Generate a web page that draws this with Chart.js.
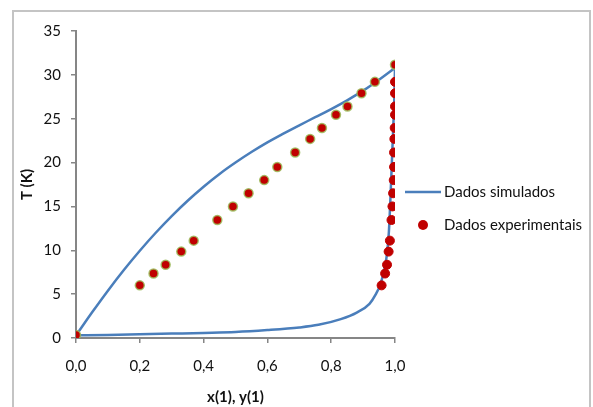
<!DOCTYPE html>
<html>
<head>
<meta charset="utf-8">
<script src="https://cdn.jsdelivr.net/npm/chart.js@4.4.1/dist/chart.umd.min.js"></script>
<style>
  html, body { margin: 0; padding: 0; background: #fff; }
  #wrap { width: 593px; height: 407px; }
</style>
</head>
<body>
<div id="wrap"><canvas id="chart" width="593" height="407"></canvas></div>
<script>
// curva simulada - ramo do liquido (superior)
const simLiqX = [0, 0.05, 0.1, 0.15, 0.2, 0.25, 0.3, 0.35, 0.4, 0.45, 0.5, 0.55, 0.6, 0.65, 0.7, 0.75, 0.8, 0.85, 0.9, 0.95, 1.0];
const simLiqT = [0.3, 2.9, 5.4, 7.75, 9.95, 12.0, 13.9, 15.65, 17.25, 18.7, 20.0, 21.2, 22.3, 23.3, 24.25, 25.17, 26.1, 27.1, 28.2, 29.45, 30.8];

// curva simulada - ramo do vapor (inferior)
const simVapX = [0, 0.1, 0.2, 0.3, 0.4, 0.5, 0.6, 0.7, 0.76, 0.83, 0.88, 0.92, 0.94, 0.955, 0.97, 0.976, 0.981, 0.988, 0.994, 0.998, 1.0];
const simVapT = [0.3, 0.35, 0.42, 0.5, 0.58, 0.68, 0.9, 1.2, 1.5, 2.15, 2.9, 3.9, 5.0, 6.2, 8.4, 10.0, 12.2, 18.0, 23.6, 27.5, 30.8];

// dados experimentais
const expT = [6.0, 7.35, 8.35, 9.85, 11.1, 13.45, 15.0, 16.5, 18.0, 19.5, 21.15, 22.7, 23.95, 25.45, 26.4, 27.9, 29.2];
const expX = [0.20, 0.243, 0.281, 0.330, 0.369, 0.443, 0.492, 0.541, 0.590, 0.631, 0.687, 0.734, 0.771, 0.815, 0.851, 0.895, 0.937];
const expY = [0.958, 0.969, 0.975, 0.980, 0.984, 0.989, 0.992, 0.994, 0.996, 0.997, 0.997, 0.998, 0.999, 1.0, 1.0, 1.0, 1.0];
// componentes puros
const pureX = [0, 1];
const pureT = [0.34, 31.15];

const xTickValues = [0, 0.2, 0.4, 0.6, 0.8, 1.0];
const xTickLabels = ['0,0', '0,2', '0,4', '0,6', '0,8', '1,0'];
const yTickValues = [0, 5, 10, 15, 20, 25, 30, 35];
const yTickLabels = ['0', '5', '10', '15', '20', '25', '30', '35'];

const legendLabels = ['Dados simulados', 'Dados experimentais'];

const lineColor = '#4a7ebb';
const dotColor = '#c00000';
const axisColor = '#868686';
const fontFamily = 'Lato, "Liberation Sans", sans-serif';

const toPoints = (xs, ys) => xs.map((x, i) => ({ x: x, y: ys[i] }));

const liquidPoints = [{ x: pureX[0], y: pureT[0] }]
  .concat(toPoints(expX, expT))
  .concat([{ x: pureX[1], y: pureT[1] }]);

// moldura + legenda desenhadas no canvas
const frameLegend = {
  id: 'frameLegend',
  beforeDraw(chart) {
    const ctx = chart.ctx;
    ctx.save();
    ctx.strokeStyle = '#c4c4c4';
    ctx.lineWidth = 2;
    ctx.strokeRect(13, 11, 577, 420);
    ctx.restore();
  },
  afterDraw(chart) {
    const ctx = chart.ctx;
    const sim = chart.data.datasets[2];
    const exp = chart.data.datasets[1];
    ctx.save();
    ctx.strokeStyle = sim.borderColor;
    ctx.lineWidth = sim.borderWidth;
    ctx.beginPath();
    ctx.moveTo(405, 192);
    ctx.lineTo(441, 192);
    ctx.stroke();
    ctx.fillStyle = exp.backgroundColor;
    ctx.beginPath();
    ctx.arc(423, 225, 5, 0, Math.PI * 2);
    ctx.fill();
    ctx.fillStyle = '#111';
    ctx.font = '15px ' + fontFamily;
    ctx.textBaseline = 'alphabetic';
    ctx.fillText(legendLabels[0], 444, 197);
    ctx.fillText(legendLabels[1], 444, 230);
    ctx.restore();
  }
};

const ctx = document.getElementById('chart').getContext('2d');

new Chart(ctx, {
  type: 'scatter',
  data: {
    datasets: [
      {
        label: 'Dados experimentais (liquido)',
        data: liquidPoints,
        backgroundColor: dotColor,
        borderColor: 'rgba(155,187,89,0.85)',
        borderWidth: 1.5,
        pointRadius: 4.5,
        order: 0
      },
      {
        label: legendLabels[1],
        data: toPoints(expY, expT),
        backgroundColor: dotColor,
        borderColor: dotColor,
        borderWidth: 1,
        pointRadius: 4.5,
        order: 1
      },
      {
        label: legendLabels[0],
        data: toPoints(simLiqX, simLiqT),
        showLine: true,
        borderColor: lineColor,
        borderWidth: 2.5,
        pointRadius: 0,
        tension: 0.4,
        order: 2
      },
      {
        label: legendLabels[0] + ' (vapor)',
        data: toPoints(simVapX, simVapT),
        showLine: true,
        borderColor: lineColor,
        borderWidth: 2.5,
        pointRadius: 0,
        cubicInterpolationMode: 'monotone',
        order: 3
      }
    ]
  },
  options: {
    responsive: false,
    animation: false,
    layout: { padding: { left: 0, top: 31, right: 198, bottom: 0 } },
    plugins: {
      legend: { display: false },
      tooltip: { enabled: false }
    },
    scales: {
      x: {
        type: 'linear',
        min: 0,
        max: 1,
        afterFit: scale => { scale.height = 69; },
        afterBuildTicks: scale => { scale.ticks = xTickValues.map(v => ({ value: v })); },
        ticks: {
          callback: (v, i) => xTickLabels[i],
          color: '#111',
          padding: 14,
          maxRotation: 0,
          font: { family: fontFamily, size: 15 }
        },
        grid: { drawOnChartArea: false, drawTicks: true, tickLength: 5, color: axisColor, lineWidth: 1.5 },
        border: { display: true, color: axisColor, width: 2 },
        title: {
          display: true,
          text: 'x(1), y(1)',
          color: '#111',
          font: { family: fontFamily, size: 15, weight: 'bold' },
          padding: { top: 4, bottom: 1 }
        }
      },
      y: {
        type: 'linear',
        min: 0,
        max: 35,
        afterFit: scale => { scale.width = 76; },
        afterBuildTicks: scale => { scale.ticks = yTickValues.map(v => ({ value: v })); },
        ticks: {
          callback: (v, i) => yTickLabels[i],
          color: '#111',
          padding: 10,
          font: { family: fontFamily, size: 15 }
        },
        grid: { drawOnChartArea: false, drawTicks: true, tickLength: 5, color: axisColor, lineWidth: 1.5 },
        border: { display: true, color: axisColor, width: 2 },
        title: {
          display: true,
          text: 'T (K)',
          color: '#111',
          font: { family: fontFamily, size: 15, weight: 'bold' },
          padding: { top: 18, bottom: 4 }
        }
      }
    }
  },
  plugins: [frameLegend]
});
</script>
</body>
</html>
